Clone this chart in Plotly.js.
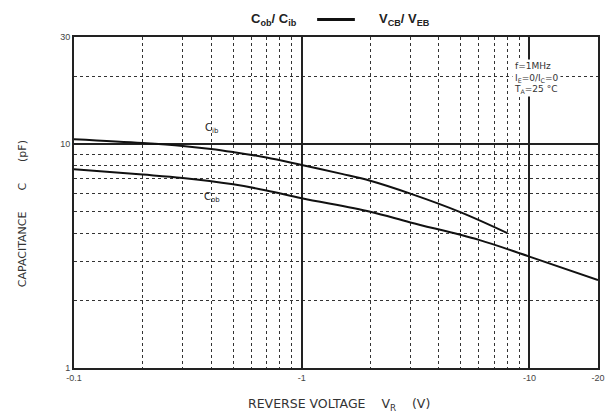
<!DOCTYPE html>
<html><head><meta charset="utf-8">
<script src="https://cdn.plot.ly/plotly-3.0.1.min.js"></script>
<style>html,body{margin:0;padding:0;background:#fff}#chart{width:609px;height:417px}</style>
</head><body><div id="chart"></div>
<script>
// Reverse voltage (V) and capacitance (pF)
const vIb = [-0.1, -0.2, -0.3, -0.4, -0.5, -0.7, -1, -1.5, -2, -3, -5, -8];
const cIb = [10.5, 10.1, 9.8, 9.5, 9.2, 8.7, 8.05, 7.35, 6.85, 6.0, 4.95, 4.0];
const vOb = [-0.1, -0.2, -0.3, -0.5, -0.7, -1, -2, -3, -6, -10, -20];
const cOb = [7.7, 7.3, 7.05, 6.6, 6.2, 5.72, 4.98, 4.46, 3.73, 3.14, 2.47];

const xTickVals = [-0.1, -1, -10, -20];
const xTickText = ['-0.1', '-1', '-10', '-20'];
const xMinor = [-0.2,-0.3,-0.4,-0.5,-0.6,-0.7,-0.8,-0.9,-2,-3,-4,-5,-6,-7,-8,-9];
const yTickVals = [1, 10, 30];
const yTickText = ['1', '10', '30'];
const yMinor = [2,3,4,5,6,7,8,9,20];

const font = 'Liberation Sans, Arial, sans-serif';
const wide = 'DejaVu Sans, Liberation Sans, sans-serif';
const mag = a => a.map(v => Math.abs(v));

const traces = [
  {x: mag(vIb), y: cIb, mode: 'lines', line: {color: '#111', width: 2, shape: 'spline', smoothing: 1}, hoverinfo: 'skip'},
  {x: mag(vOb), y: cOb, mode: 'lines', line: {color: '#111', width: 2, shape: 'spline', smoothing: 1}, hoverinfo: 'skip'}
];

const layout = {
  width: 609, height: 417,
  margin: {l: 74, r: 11, t: 37, b: 49},
  paper_bgcolor: '#fff', plot_bgcolor: '#fff',
  showlegend: false,
  font: {family: font, size: 9, color: '#333'},
  xaxis: {
    type: 'log', range: [Math.log10(0.1), Math.log10(20)],
    tickmode: 'array', tickvals: mag(xTickVals), ticktext: xTickText,
    showgrid: true, gridcolor: '#222', gridwidth: 2,
    showline: true, linecolor: '#222', linewidth: 2, mirror: true,
    ticks: '', zeroline: false, tickfont: {size: 9, color: '#444'},
    minor: {tickmode: 'array', tickvals: mag(xMinor), showgrid: true, gridcolor: '#333', griddash: 'dot', gridwidth: 1, ticks: ''}
  },
  yaxis: {
    type: 'log', range: [0, Math.log10(30)],
    tickmode: 'array', tickvals: yTickVals, ticktext: yTickText,
    showgrid: true, gridcolor: '#222', gridwidth: 2,
    showline: true, linecolor: '#222', linewidth: 2, mirror: true,
    ticks: '', zeroline: false, tickfont: {size: 9, color: '#444'},
    minor: {tickmode: 'array', tickvals: yMinor, showgrid: true, gridcolor: '#333', griddash: 'dot', gridwidth: 1, ticks: ''}
  },
  shapes: [
    {type: 'line', xref: 'paper', yref: 'paper', x0: 0.464, x1: 0.536, y0: 1.053, y1: 1.053, line: {color: '#111', width: 3}}
  ],
  annotations: [
    {x: 0.43, y: 1.053, xref: 'paper', yref: 'paper', xanchor: 'right', yanchor: 'middle', showarrow: false,
     text: '<b>C<sub>ob</sub>/ C<sub>ib</sub></b>', font: {family: font, size: 13, color: '#222'}},
    {x: 0.578, y: 1.053, xref: 'paper', yref: 'paper', xanchor: 'left', yanchor: 'middle', showarrow: false,
     text: '<b>V<sub>CB</sub>/ V<sub>EB</sub></b>', font: {family: font, size: 13, color: '#222'}},
    {x: 0.505, y: -0.109, xref: 'paper', yref: 'paper', xanchor: 'center', yanchor: 'middle', showarrow: false,
     text: 'REVERSE VOLTAGE    V<sub>R</sub>    (V)', font: {family: wide, size: 12.5, color: '#333'}},
    {x: -0.099, y: 0.465, xref: 'paper', yref: 'paper', xanchor: 'center', yanchor: 'middle', showarrow: false, textangle: -90,
     text: 'CAPACITANCE      C      (pF)', font: {family: wide, size: 11, color: '#333'}},
    {x: Math.log10(0.404), y: Math.log10(11.7), xref: 'x', yref: 'y', text: 'C<sub>ib</sub>', showarrow: false, font: {family: wide, size: 10, color: '#222'}},
    {x: Math.log10(0.404), y: Math.log10(5.75), xref: 'x', yref: 'y', text: 'C<sub>ob</sub>', showarrow: false, font: {family: wide, size: 10, color: '#222'}},
    {x: 0.836, y: 0.935, xref: 'paper', yref: 'paper', xanchor: 'left', showarrow: false, align: 'left', bgcolor: '#fff',
     text: 'f=1MHz<br>I<sub>E</sub>=0/I<sub>C</sub>=0<br>T<sub>A</sub>=25 °C', font: {family: wide, size: 9, color: '#333'}}
  ]
};

Plotly.newPlot('chart', traces, layout, {staticPlot: true, displayModeBar: false});
</script>
</body></html>
